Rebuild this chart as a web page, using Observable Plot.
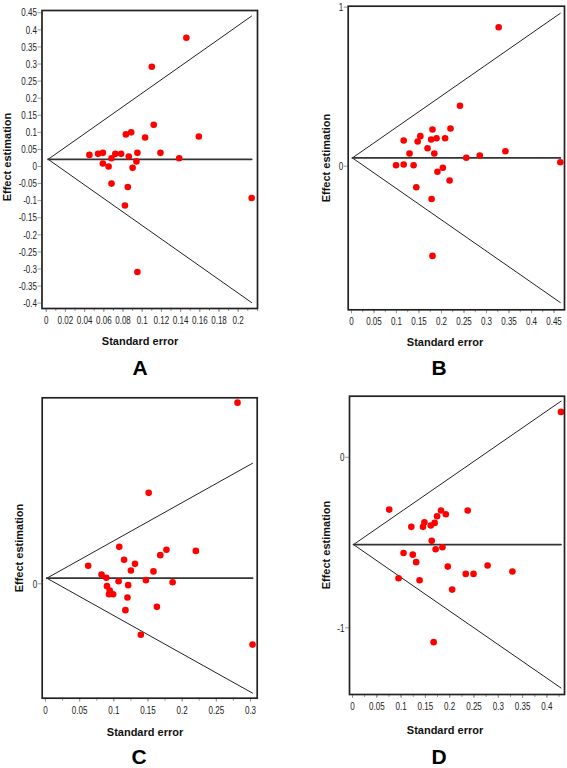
<!DOCTYPE html>
<html><head><meta charset="utf-8">
<script src="https://cdn.jsdelivr.net/npm/d3@7"></script>
<script src="https://cdn.jsdelivr.net/npm/@observablehq/plot@0.6"></script>
<style>
body{margin:0;background:#fff;}
#wrap{position:relative;width:567px;height:768px;overflow:hidden;font-family:Arial,"Liberation Sans",sans-serif;}
.p{position:absolute;}
.xl{position:absolute;font-weight:bold;font-size:11px;line-height:1;transform:translate(-50%,-50%);white-space:nowrap;color:#111;}
.yl{position:absolute;font-weight:bold;font-size:11px;line-height:1;transform:translate(-50%,-50%) rotate(-90deg);white-space:nowrap;color:#111;}
.lt{position:absolute;font-weight:bold;font-size:21px;line-height:1;transform:translate(-50%,-50%);color:#000;}
</style></head>
<body><div id="wrap"></div>
<script>
// ---- data ----
const seA = [0.146,0.110,0.112,0.083,0.0885,0.103,0.159,0.045,0.054,0.059,0.059,0.065,0.068,0.072,0.078,0.086,0.090,0.094,0.095,0.119,0.1385,0.068,0.085,0.082,0.095,0.214];
const effA = [0.377,0.292,0.122,0.094,0.100,0.085,0.088,0.034,0.037,0.040,0.009,0.000,0.024,0.037,0.037,0.029,-0.004,0.015,0.040,0.040,0.024,-0.050,-0.060,-0.114,-0.309,-0.092];
const seB = [0.327,0.241,0.220,0.180,0.153,0.116,0.147,0.177,0.189,0.208,0.169,0.129,0.184,0.255,0.285,0.342,0.464,0.099,0.116,0.138,0.203,0.191,0.218,0.144,0.178,0.180];
const effB = [0.874,0.380,0.237,0.231,0.189,0.162,0.155,0.168,0.176,0.176,0.113,0.080,0.080,0.053,0.067,0.094,0.025,0.006,0.011,0.006,-0.010,-0.035,-0.090,-0.132,-0.206,-0.564];
const seC = [0.281,0.151,0.108,0.115,0.131,0.125,0.0625,0.168,0.177,0.220,0.158,0.082,0.089,0.107,0.147,0.186,0.121,0.090,0.094,0.093,0.099,0.120,0.117,0.163,0.1395,0.303];
const effC = [0.936,0.470,0.191,0.124,0.103,0.069,0.093,0.148,0.176,0.170,0.064,0.048,0.031,0.013,0.019,0.008,-0.007,-0.012,-0.035,-0.054,-0.054,-0.071,-0.136,-0.119,-0.263,-0.314];
const seD = [0.429,0.0755,0.237,0.182,0.192,0.174,0.169,0.148,0.145,0.161,0.121,0.163,0.171,0.185,0.105,0.124,0.131,0.196,0.278,0.233,0.249,0.329,0.0947,0.138,0.205,0.167];
const effD = [0.266,-0.307,-0.312,-0.312,-0.334,-0.346,-0.385,-0.381,-0.408,-0.400,-0.408,-0.490,-0.539,-0.528,-0.561,-0.571,-0.615,-0.641,-0.635,-0.684,-0.684,-0.670,-0.709,-0.721,-0.776,-1.084];

// pooled estimates and funnel extent (SE range) per panel
const panelNames = ["A","B","C","D"];
const pooled = [0.021, 0.052, 0.029, -0.512];
const seStart = [0.002, 0.002, 0.002, 0.002];
const seEnd = [0.214, 0.464, 0.303, 0.429];
const zCrit = 1.96;

// tick labels
const xTicksA = [0,0.02,0.04,0.06,0.08,0.1,0.12,0.14,0.16,0.18,0.2];
const yTicksA = [-0.4,-0.35,-0.3,-0.25,-0.2,-0.15,-0.1,-0.05,0,0.05,0.1,0.15,0.2,0.25,0.3,0.35,0.4,0.45];
const xTicksB = [0,0.05,0.1,0.15,0.2,0.25,0.3,0.35,0.4,0.45];
const yTicksB = [0,1];
const xTicksC = [0,0.05,0.1,0.15,0.2,0.25,0.3];
const yTicksC = [0];
const xTicksD = [0,0.05,0.1,0.15,0.2,0.25,0.3,0.35,0.4];
const yTicksD = [-1,0];
const xLabel = "Standard error";
const yLabel = "Effect estimation";

// ---- layout ----
const panels = [
  {se: seA, eff: effA, xt: xTicksA, yt: yTicksA, minor: 0.01,
   box: {l:0, t:0, w:283, h:384}, frame: {l:41.5, r:257, t:10, b:308},
   xd: [-0.0044, 0.2201], yd: [-0.4157, 0.4567],
   xl: [140, 341], yl: [7, 157], lt: [140, 367]},
  {se: seB, eff: effB, xt: xTicksB, yt: yTicksB, minor: 0.025,
   box: {l:290, t:0, w:277, h:384}, frame: {l:347.7, r:564, t:5.7, b:309.3},
   xd: [-0.0073, 0.4733], yd: [-0.903, 1.006],
   xl: [445, 342], yl: [326, 158], lt: [439, 367]},
  {se: seC, eff: effC, xt: xTicksC, yt: yTicksC, minor: 0.025,
   box: {l:0, t:384, w:283, h:384}, frame: {l:41.7, r:256.7, t:397.3, b:697.7},
   xd: [-0.0048, 0.3098], yd: [-0.591, 0.961],
   xl: [145, 732], yl: [19, 548], lt: [139, 756]},
  {se: seD, eff: effD, xt: xTicksD, yt: yTicksD, minor: 0.025,
   box: {l:290, t:384, w:277, h:384}, frame: {l:349, r:564, t:395.7, b:694},
   xd: [-0.0062, 0.4362], yd: [-1.391, 0.358],
   xl: [445, 730], yl: [326, 545], lt: [439, 756]}
];

const fmt = d => String(Math.round(d * 1000) / 1000);
const wrap = document.getElementById("wrap");

panels.forEach((p, i) => {
  const pts = p.se.map((s, k) => ({se: s, eff: p.eff[k]}));
  const c = pooled[i];
  const upper = [{se: seStart[i], y: c}, {se: seEnd[i], y: c + zCrit * seEnd[i]}];
  const lower = [{se: seStart[i], y: c}, {se: seEnd[i], y: c - zCrit * seEnd[i]}];
  const mid = [{se: seStart[i], y: c}, {se: seEnd[i], y: c}];
  const minorTicks = d3.range(0, p.xd[1] + 1e-9, p.minor);
  const b = p.box, f = p.frame;
  const chart = Plot.plot({
    width: b.w, height: b.h,
    marginLeft: f.l - b.l, marginRight: b.l + b.w - f.r,
    marginTop: f.t - b.t, marginBottom: b.t + b.h - f.b,
    x: {domain: p.xd, label: null},
    y: {domain: p.yd, label: null},
    style: {fontFamily: "Arial,'Liberation Sans',sans-serif", fontSize: "11.5px", color: "#222", background: "transparent"},
    marks: [
      Plot.axisX(minorTicks, {tickSize: 3, text: null, label: null, stroke: "#999", tickPadding: 0}),
      Plot.axisX(p.xt, {tickSize: 4, tickFormat: fmt, label: null, stroke: "#999", tickPadding: 3.5, fill: "#222"}),
      Plot.axisY(p.yt, {tickSize: 4, tickFormat: fmt, label: null, stroke: "#999", tickPadding: 1, fill: "#222"}),
      Plot.line(upper, {x: "se", y: "y", stroke: "#222", strokeWidth: 1}),
      Plot.line(lower, {x: "se", y: "y", stroke: "#222", strokeWidth: 1}),
      Plot.line(mid, {x: "se", y: "y", stroke: "#333", strokeWidth: 1.8}),
      Plot.dot(pts, {x: "se", y: "eff", r: 3.3, fill: "#ff0000", stroke: "none"}),
      Plot.frame({stroke: "#222", strokeWidth: 1.7})
    ]
  });
  // condense tick labels horizontally (the reference uses a narrow font):
  // scale each label about its own anchor point, leaving its position untouched
  chart.querySelectorAll("g[aria-label='x-axis tick label'] text, g[aria-label='y-axis tick label'] text").forEach(t => {
    let ax = parseFloat(t.getAttribute("x"));
    if (!isFinite(ax)) ax = 0;
    const tr = t.getAttribute("transform") || "";
    t.setAttribute("transform", `${tr} translate(${ax},0) scale(0.7,1) translate(${-ax},0)`);
  });
  chart.classList.add("p");
  chart.style.left = b.l + "px";
  chart.style.top = b.t + "px";
  wrap.appendChild(chart);

  const xl = document.createElement("div");
  xl.className = "xl"; xl.textContent = xLabel;
  xl.style.left = p.xl[0] + "px"; xl.style.top = p.xl[1] + "px";
  wrap.appendChild(xl);
  const yl = document.createElement("div");
  yl.className = "yl"; yl.textContent = yLabel;
  yl.style.left = p.yl[0] + "px"; yl.style.top = p.yl[1] + "px";
  wrap.appendChild(yl);
  const lt = document.createElement("div");
  lt.className = "lt"; lt.textContent = panelNames[i];
  lt.style.left = p.lt[0] + "px"; lt.style.top = p.lt[1] + "px";
  wrap.appendChild(lt);
});
</script></body></html>
